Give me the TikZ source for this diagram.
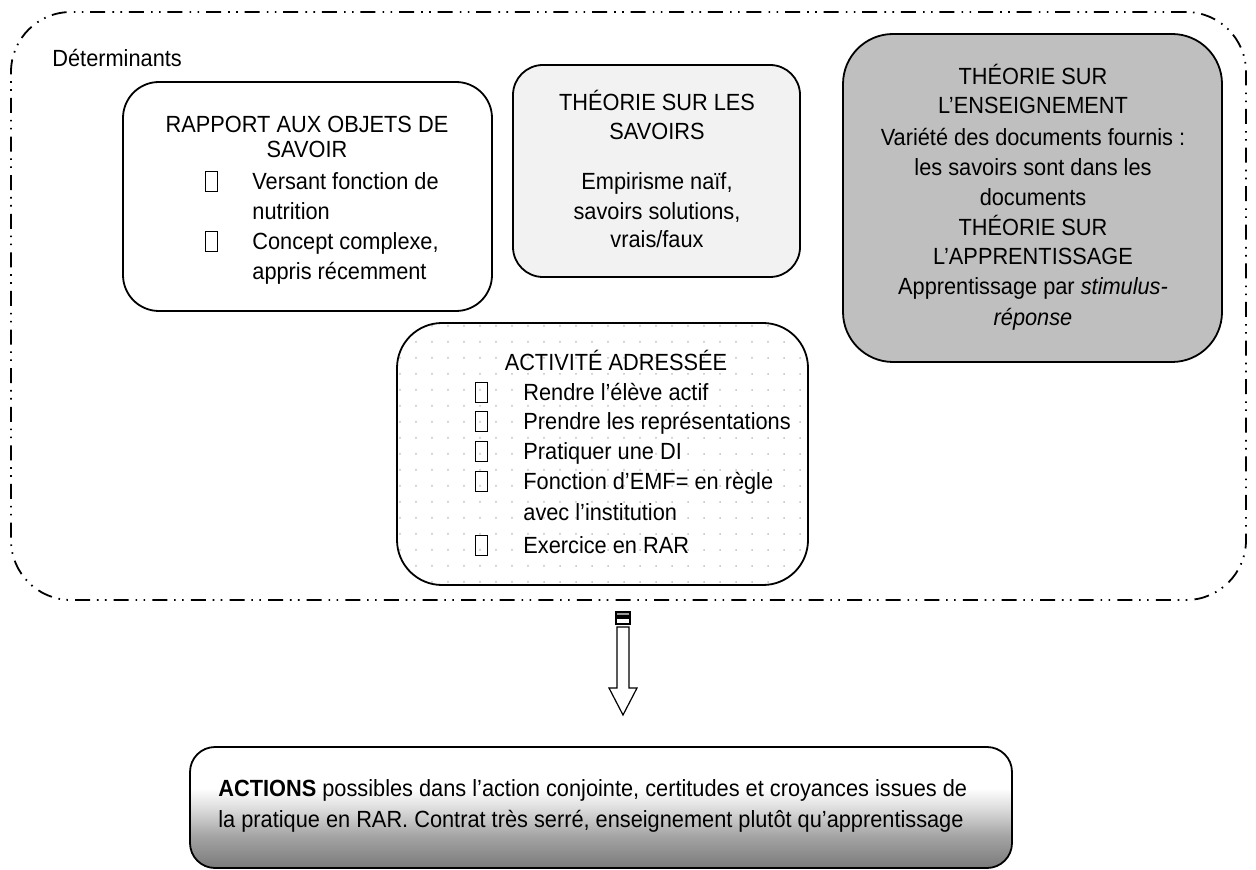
\documentclass[tikz,border=0pt]{standalone}
\usepackage{fontspec}
\setmainfont{Liberation Sans}[FakeStretch=0.93]
\usetikzlibrary{patterns.meta}
\pgfdeclareverticalshading{actshade}{100bp}{color(0bp)=(black!52); color(25bp)=(black!52); color(38bp)=(black!36); color(50bp)=(black!13); color(58bp)=(white); color(100bp)=(white)}
\newcommand\mfs{\fontsize{11.7pt}{13pt}\selectfont}
\begin{document}
\begin{tikzpicture}[x=0.5pt,y=-0.5pt,
 box/.style={draw, line width=0.9pt, rounded corners=#1, inner sep=0pt},
 lbl/.style={font=\mfs, inner sep=0pt, anchor=base},
 lbll/.style={font=\mfs, inner sep=0pt, anchor=base west},
 bul/.style={draw, line width=0.5pt, minimum width=6pt, minimum height=10pt, inner sep=0pt},
 outerline/.style={draw, line width=0.9pt, dash pattern=on 7.5pt off 3.4pt on 0.8pt off 3.2pt on 0.8pt off 3.6pt, rounded corners=30pt, inner sep=0pt},
 arrowpart/.style={draw, line width=0.6pt}]
\useasboundingbox (0,0) rectangle (1256,870);
% outer frame
\node[outerline, minimum width=617.5pt, minimum height=294pt] (outer) at (628.5,306) {};
\node[lbll] (det) at (52,67) {Déterminants};
% rapport box
\node[box=18pt, minimum width=184.5pt, minimum height=114.5pt] (rap) at (307.5,196.5) {};
\node[lbl] (rap1) at (307,133) {RAPPORT AUX OBJETS DE};
\node[lbl] (rap2) at (307,158) {SAVOIR};
\node[bul] (rapb1) at (211,182) {};
\node[lbll] (rap3) at (252,190) {Versant fonction de};
\node[lbll] (rap4) at (252,220) {nutrition};
\node[bul] (rapb2) at (211,242) {};
\node[lbll] (rap5) at (252,250) {Concept complexe,};
\node[lbll] (rap6) at (252,280) {appris récemment};
% savoirs box
\node[box=15pt, fill=black!5, minimum width=143.5pt, minimum height=106pt] (sav) at (656.5,171) {};
\node[lbl] (sav1) at (657,111) {THÉORIE SUR LES};
\node[lbl] (sav2) at (657,140) {SAVOIRS};
\node[lbl] (sav3) at (657,190) {Empirisme naïf,};
\node[lbl] (sav4) at (657,220) {savoirs solutions,};
\node[lbl] (sav5) at (657,248) {vrais/faux};
% enseignement box
\node[box=25pt, fill=black!25, minimum width=189.5pt, minimum height=164pt] (ens) at (1032.5,198) {};
\node[lbl] (ens1) at (1033,85) {THÉORIE SUR};
\node[lbl] (ens2) at (1033,114) {L’ENSEIGNEMENT};
\node[lbl] (ens3) at (1033,146) {Variété des documents fournis :};
\node[lbl] (ens4) at (1033,176) {les savoirs sont dans les};
\node[lbl] (ens5) at (1033,206) {documents};
\node[lbl] (ens6) at (1033,236) {THÉORIE SUR};
\node[lbl] (ens7) at (1033,265) {L’APPRENTISSAGE};
\node[lbl] (ens8) at (1033,295) {Apprentissage par \textit{stimulus-}};
\node[lbl] (ens9) at (1033,326) {\textit{réponse}};
% activite box
\node[box=22.5pt, pattern={Dots[distance=8pt, radius=0.5pt]}, pattern color=black!25, minimum width=205.5pt, minimum height=131pt] (act) at (602.5,454) {};
\node[lbl] (act1) at (616,371) {ACTIVITÉ ADRESSÉE};
\node[bul] (actb1) at (481,393) {};
\node[lbll] (act2) at (523,401) {Rendre l’élève actif};
\node[bul] (actb2) at (481,422) {};
\node[lbll] (act3) at (523,430) {Prendre les représentations};
\node[bul] (actb3) at (481,452) {};
\node[lbll] (act4) at (523,460) {Pratiquer une DI};
\node[bul] (actb4) at (481,482) {};
\node[lbll] (act5) at (523,490) {Fonction d’EMF= en règle};
\node[lbll] (act6) at (523,521) {avec l’institution};
\node[bul] (actb5) at (481,545) {};
\node[lbll] (act7) at (523,553) {Exercice en RAR};
% arrow
\coordinate (arrtop) at (623,612);
\begin{scope}[shift={(arrtop)}]
\draw[arrowpart, fill=black!40] (-7,0) rectangle (7,4);
\draw[arrowpart, fill=white] (-7,6) rectangle (7,12);
\draw[arrowpart, fill=white] (-6,15) -- (6,15) -- (6,76) -- (14,76) -- (0,103) -- (-14,76) -- (-6,76) -- cycle;
\end{scope}
% actions box
\node[box=12.5pt, shade, shading=actshade, minimum width=411pt, minimum height=60.5pt] (res) at (601,807.5) {};
\node[lbll] (res1) at (218,796) {\textbf{ACTIONS} possibles dans l’action conjointe, certitudes et croyances issues de};
\node[lbll] (res2) at (218,827) {la pratique en RAR. Contrat très serré, enseignement plutôt qu’apprentissage};
\end{tikzpicture}
\end{document}
